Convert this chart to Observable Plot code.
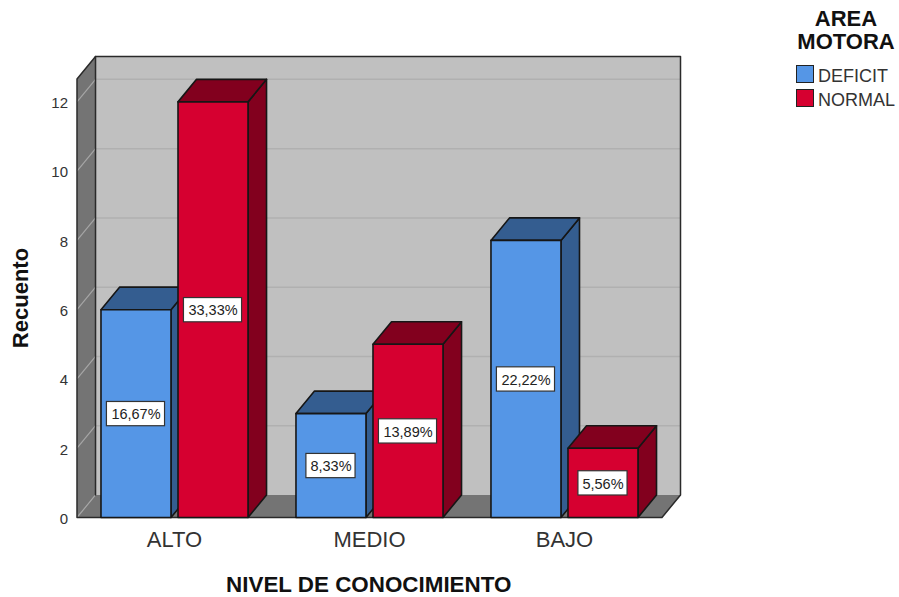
<!DOCTYPE html>
<html lang="es">
<head>
<meta charset="utf-8">
<title>Nivel de conocimiento y área motora</title>
<script src="https://cdn.jsdelivr.net/npm/d3@7"></script>
<script src="https://cdn.jsdelivr.net/npm/@observablehq/plot@0.6"></script>
<style>
  html, body { margin: 0; padding: 0; background: #fff; }
  #chart { position: relative; width: 899px; height: 597px; overflow: hidden; font-family: "Liberation Sans", Arial, sans-serif; }
  #chart svg { display: block; background: #fff; }
  #legend { position: absolute; left: 790px; top: 7px; width: 112px; color: #111; }
  #legend .title { font-weight: bold; font-size: 22px; line-height: 23px; text-align: center; }
  #legend .item { position: absolute; left: 6px; font-size: 18px; color: #333; white-space: nowrap; padding-left: 22px; line-height: 18px; }
  #legend .label { position: relative; top: 2px; }
  #legend .swatch { position: absolute; left: 0; top: 0; width: 16px; height: 16px; border: 1.5px solid #222; box-sizing: content-box; }
</style>
</head>
<body>
<div id="chart">
  <div id="legend"></div>
</div>
<script>
// Recuento por nivel de conocimiento y área motora
const categorias = ["ALTO", "MEDIO", "BAJO"];
const deficit = [6, 3, 8];
const normal = [12, 5, 2];
const pctDeficit = ["16,67%", "8,33%", "22,22%"];
const pctNormal = ["33,33%", "13,89%", "5,56%"];
const yTicks = [0, 2, 4, 6, 8, 10, 12];
const series = ["DEFICIT", "NORMAL"];

const azul = {front: "#5596e6", dark: "#345d90"};
const rojo = {front: "#d60030", dark: "#82001e"};

// Extrusion of the 3D box, expressed in data units of each axis
const depthX = 0.095;
const depthY = 0.65;
const xMin = -0.5;
const xMax = 2.5;
const wallTop = 12.66;
const barW = 0.359;
const barGap = 0.018;

const polygon = (id, color, pts) => pts.concat([pts[0]]).map(([x, y]) => ({id, color, x, y}));

// Walls and floor of the chart box
const room = [
  ...polygon("back", "#c0c0c0", [[xMin + depthX, depthY], [xMax + depthX, depthY], [xMax + depthX, wallTop + depthY], [xMin + depthX, wallTop + depthY]]),
  ...polygon("left", "#747474", [[xMin, 0], [xMin + depthX, depthY], [xMin + depthX, wallTop + depthY], [xMin, wallTop]]),
  ...polygon("floor", "#747474", [[xMin, 0], [xMax, 0], [xMax + depthX, depthY], [xMin + depthX, depthY]])
];

// Dark edges of the box
const edges = [
  {id: "outer", pts: [[xMin, 0], [xMin, wallTop], [xMin + depthX, wallTop + depthY], [xMax + depthX, wallTop + depthY], [xMax + depthX, depthY], [xMax, 0], [xMin, 0]]},
  {id: "inner", pts: [[xMin + depthX, wallTop + depthY], [xMin + depthX, depthY]]}
].flatMap(({id, pts}) => pts.map(([x, y]) => ({id, x, y})));

// Three visible faces per bar, back to front and left to right
const bar = (id, x1, v, c) => {
  const x2 = x1 + barW;
  return [
    ...polygon(id + "-side", c.dark, [[x2, 0], [x2 + depthX, depthY], [x2 + depthX, v + depthY], [x2, v]]),
    ...polygon(id + "-top", c.dark, [[x1, v], [x2, v], [x2 + depthX, v + depthY], [x1 + depthX, v + depthY]]),
    ...polygon(id + "-front", c.front, [[x1, 0], [x2, 0], [x2, v], [x1, v]])
  ];
};
const faces = categorias.flatMap((_, i) => [
  ...bar("d" + i, i - barGap - barW, deficit[i], azul),
  ...bar("n" + i, i + barGap, normal[i], rojo)
]);

// Percentage tags centred on each bar's front face
const tags = categorias.flatMap((_, i) => [
  {x: i - barGap - barW / 2, y: deficit[i] / 2, text: pctDeficit[i]},
  {x: i + barGap + barW / 2, y: normal[i] / 2, text: pctNormal[i]}
]);
const tagHalfW = (t) => (t.text.length >= 6 ? 0.149 : 0.126);
const tagHalfH = 0.35;

const svg = Plot.plot({
  width: 899,
  height: 597,
  marginLeft: 76.5,
  marginRight: 219,
  marginTop: 56,
  marginBottom: 80,
  style: {fontFamily: '"Liberation Sans", Arial, sans-serif', background: "#fff", color: "#333"},
  x: {domain: [xMin, xMax + depthX], axis: null},
  y: {domain: [0, wallTop + depthY], axis: null},
  color: {type: "identity"},
  marks: [
    Plot.line(room, {x: "x", y: "y", z: "id", fill: "color", stroke: "none"}),
    // Gridlines running across the left wall and the back wall
    Plot.link(yTicks, {x1: xMin, y1: d => d, x2: xMin + depthX, y2: d => d + depthY, stroke: "#a6a6a6", strokeWidth: 1.2}),
    Plot.link(yTicks.slice(1), {x1: xMin + depthX, y1: d => d + depthY, x2: xMax + depthX, y2: d => d + depthY, stroke: "#b0b0b0", strokeWidth: 1.5}),
    Plot.line(edges, {x: "x", y: "y", z: "id", stroke: "#2a2a2a", strokeWidth: 1.5}),
    Plot.line(faces, {x: "x", y: "y", z: "id", fill: "color", stroke: "#161616", strokeWidth: 1.6}),
    Plot.rect(tags, {
      x1: d => d.x - tagHalfW(d), x2: d => d.x + tagHalfW(d),
      y1: d => d.y - tagHalfH, y2: d => d.y + tagHalfH,
      dy: 0.5,
      fill: "#fff", stroke: "#333", strokeWidth: 1.2
    }),
    Plot.text(tags, {x: "x", y: "y", text: "text", dy: 1, fontSize: 14.5, fill: "#222"}),
    Plot.axisY({ticks: yTicks, tickSize: 0, tickPadding: 9, fontSize: 15, dy: 1.5, label: null}),
    Plot.axisX({
      ticks: categorias.map((_, i) => i),
      tickFormat: i => categorias[i],
      tickSize: 0, tickPadding: 14, fontSize: 22, label: null
    }),
    Plot.text(["NIVEL DE CONOCIMIENTO"], {
      frameAnchor: "bottom", dx: -10, dy: 74,
      fontSize: 22.4, fontWeight: "bold", fill: "#111"
    }),
    Plot.text(["Recuento"], {
      frameAnchor: "left", textAnchor: "middle", rotate: -90, dx: -56, dy: 11,
      fontSize: 22, fontWeight: "bold", fill: "#111"
    })
  ]
});

const chart = document.getElementById("chart");
chart.insertBefore(svg, chart.firstChild);

// Legend beside the plot
const legend = d3.select("#legend");
legend.append("div").attr("class", "title").html("AREA<br>MOTORA");
series.forEach((name, i) => {
  const item = legend.append("div").attr("class", "item")
    .style("top", (58 + i * 24) + "px");
  item.append("span").attr("class", "swatch")
    .style("background", [azul, rojo][i].front);
  item.append("span").attr("class", "label").text(name);
});
</script>
</body>
</html>
